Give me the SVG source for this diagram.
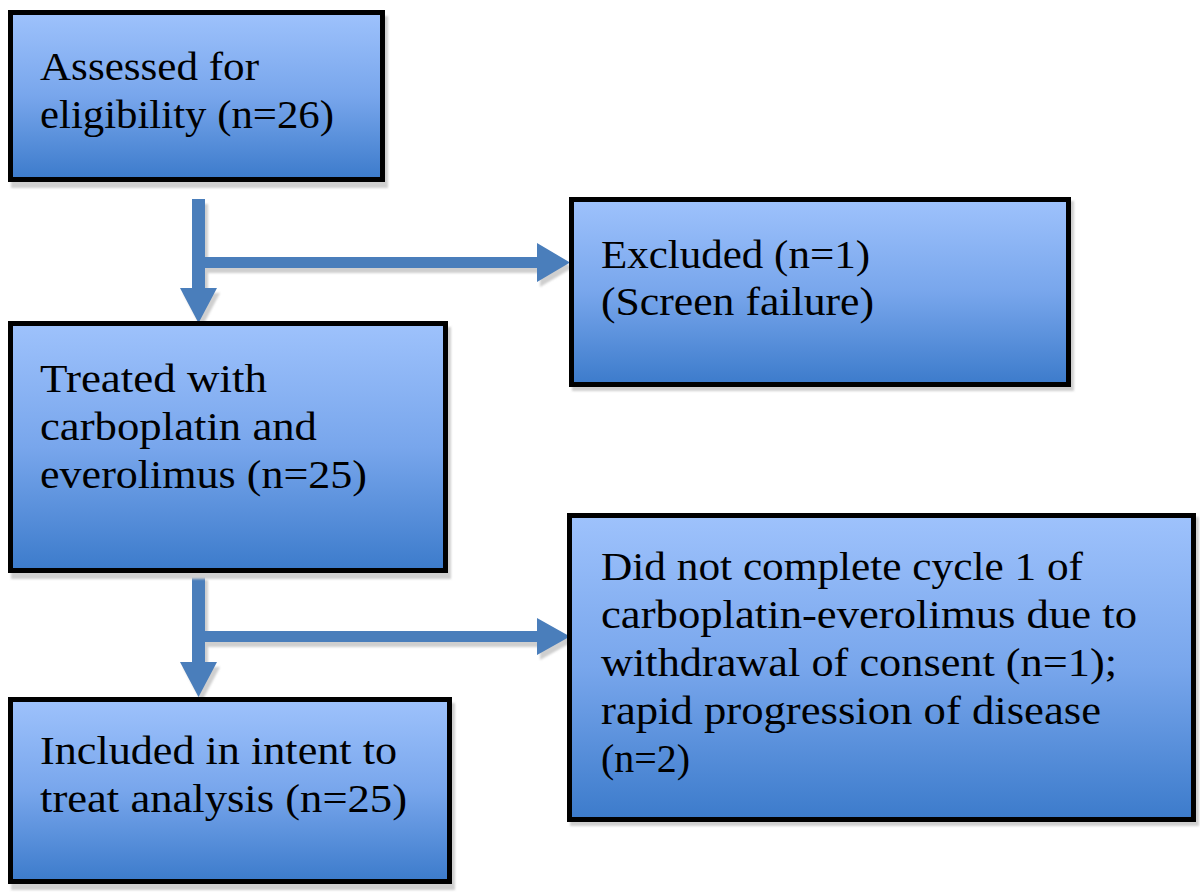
<svg xmlns="http://www.w3.org/2000/svg" width="1200" height="893" viewBox="0 0 1200 893">
<defs>
<linearGradient id="boxGrad" x1="0" y1="0" x2="0" y2="1">
<stop offset="0" stop-color="#9EC2FC"/>
<stop offset="0.5" stop-color="#78A6EC"/>
<stop offset="1" stop-color="#3C7BCB"/>
</linearGradient>
<filter id="soft" x="-5%" y="-5%" width="110%" height="110%">
<feGaussianBlur stdDeviation="1"/>
</filter>
</defs>
<style>
.box{fill:url(#boxGrad);stroke:#000;stroke-width:5}
.shadow{fill:#CFCFCF;filter:url(#soft)}
.arrow{fill:#4A7EBB}
.ashadow{fill:#CFCFCF;filter:url(#soft)}
.t{font-family:"Liberation Serif","Times New Roman",serif;font-size:41px;fill:#000}
</style>
<rect x="0" y="0" width="1200" height="893" fill="#fff"/>

<g id="connectors">
<path class="ashadow" transform="translate(3,5)" d="M192,199 H205 V257 H537 V243 L570,262.5 L537,282 V268 H205 V288 H217 L198.5,323 L180,288 H192 Z"/>
<path class="arrow" d="M192,199 H205 V257 H537 V243 L570,262.5 L537,282 V268 H205 V288 H217 L198.5,323 L180,288 H192 Z"/>
<path class="ashadow" transform="translate(3,5)" d="M192,575 H205 V631 H537 V618 L570,636.5 L537,655 V642 H205 V662 H217 L198.5,697 L180,662 H192 Z"/>
<path class="arrow" d="M192,575 H205 V631 H537 V618 L570,636.5 L537,655 V642 H205 V662 H217 L198.5,697 L180,662 H192 Z"/>
</g>

<g id="node-assessed">
<rect class="shadow" x="11" y="16" width="377" height="172"/>
<rect class="box" x="10.5" y="12.5" width="372" height="167"/>
<text class="t" x="40" y="80" textLength="219" lengthAdjust="spacingAndGlyphs">Assessed for</text>
<text class="t" x="40" y="128" textLength="294" lengthAdjust="spacingAndGlyphs">eligibility (n=26)</text>
</g>

<g id="node-excluded">
<rect class="shadow" x="572" y="201" width="502" height="190"/>
<rect class="box" x="571.5" y="199.5" width="497" height="185"/>
<text class="t" x="601" y="268" textLength="269" lengthAdjust="spacingAndGlyphs">Excluded (n=1)</text>
<text class="t" x="601" y="315" textLength="273" lengthAdjust="spacingAndGlyphs">(Screen failure)</text>
</g>

<g id="node-treated">
<rect class="shadow" x="11" y="327" width="440" height="252"/>
<rect class="box" x="10.5" y="323.5" width="435" height="247"/>
<text class="t" x="40" y="392" textLength="227" lengthAdjust="spacingAndGlyphs">Treated with</text>
<text class="t" x="40" y="440" textLength="277" lengthAdjust="spacingAndGlyphs">carboplatin and</text>
<text class="t" x="40" y="488" textLength="327" lengthAdjust="spacingAndGlyphs">everolimus (n=25)</text>
</g>

<g id="node-not-completed">
<rect class="shadow" x="570" y="517" width="629" height="309"/>
<rect class="box" x="569.5" y="515.5" width="624" height="304"/>
<text class="t" x="601" y="580" textLength="482" lengthAdjust="spacingAndGlyphs">Did not complete cycle 1 of</text>
<text class="t" x="601" y="628" textLength="536" lengthAdjust="spacingAndGlyphs">carboplatin-everolimus due to</text>
<text class="t" x="601" y="676" textLength="516" lengthAdjust="spacingAndGlyphs">withdrawal of consent (n=1);</text>
<text class="t" x="601" y="724" textLength="500" lengthAdjust="spacingAndGlyphs">rapid progression of disease</text>
<text class="t" x="601" y="772" textLength="89" lengthAdjust="spacingAndGlyphs">(n=2)</text>
</g>

<g id="node-included">
<rect class="shadow" x="11" y="703" width="444" height="187"/>
<rect class="box" x="10.5" y="699.5" width="439" height="182"/>
<text class="t" x="40" y="764" textLength="357" lengthAdjust="spacingAndGlyphs">Included in intent to</text>
<text class="t" x="40" y="812" textLength="367" lengthAdjust="spacingAndGlyphs">treat analysis (n=25)</text>
</g>
</svg>
